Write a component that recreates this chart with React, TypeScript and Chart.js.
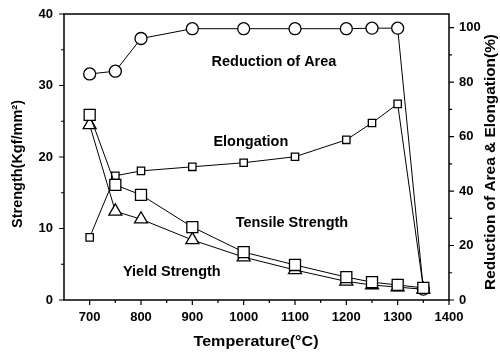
import React, { useEffect, useRef } from "react";
import { Chart, registerables } from "chart.js";

Chart.register(...registerables);

const temperatures = [700, 750, 800, 900, 1000, 1100, 1200, 1250, 1300, 1350];
const reductionOfArea = [83, 84, 96, 99.6, 99.6, 99.6, 99.6, 99.8, 99.8, 4];
const elongation = [23, 45.6, 47.4, 48.9, 50.4, 52.6, 58.8, 65, 72, 4.4];
const tensileStrength = [25.9, 16.1, 14.7, 10.2, 6.7, 4.9, 3.2, 2.5, 2.1, 1.7];
const yieldStrength = [24.5, 12.4, 11.3, 8.4, 6.0, 4.2, 2.6, 2.1, 1.8, 1.5];

const xTicks = [700, 800, 900, 1000, 1100, 1200, 1300, 1400];
const leftTicks = [0, 10, 20, 30, 40];
const rightTicks = [0, 20, 40, 60, 80, 100];

const annotations = [
  { text: "Reduction of Area", x: 1059, y: 33.3 },
  { text: "Elongation", x: 1014, y: 22.1 },
  { text: "Tensile Strength", x: 1094, y: 10.8 },
  { text: "Yield Strength", x: 860, y: 3.9 },
];

const FONT = "'Liberation Sans', Arial, sans-serif";

export default function App() {
  const ref = useRef<HTMLCanvasElement>(null);
  useEffect(() => {
    if (!ref.current) return;
    const toPts = (vals: number[]) => temperatures.map((t, i) => ({ x: t, y: vals[i] }));
    const base = {
      borderColor: "#000",
      backgroundColor: "#fff",
      pointBorderColor: "#000",
      pointBackgroundColor: "#fff",
      borderWidth: 1,
      pointBorderWidth: 1.3,
      tension: 0,
    };
    const drawText = (ctx: any, text: string, cx: number, cy: number, angle: number, size: number, target?: number) => {
      ctx.save();
      ctx.font = `bold ${size}px ${FONT}`;
      ctx.textAlign = "center";
      ctx.textBaseline = "middle";
      ctx.translate(cx, cy);
      ctx.rotate(angle);
      if (target) {
        const w = ctx.measureText(text).width;
        ctx.scale(target / w, 1);
      }
      ctx.fillText(text, 0, 0);
      ctx.restore();
    };
    const framePlugin = {
      id: "frame",
      afterDraw(chart: any) {
        const ctx = chart.ctx;
        const { left, right, top, bottom } = chart.chartArea;
        const xs = chart.scales.x;
        const yl = chart.scales.y;
        const yr = chart.scales.y2;
        ctx.save();
        ctx.strokeStyle = "#000";
        ctx.lineWidth = 1.5;
        ctx.strokeRect(left, top, right - left, bottom - top);
        ctx.lineWidth = 1.2;
        ctx.beginPath();
        for (let v = 700; v <= 1400; v += 50) {
          const p = xs.getPixelForValue(v);
          const len = v % 100 === 0 ? 5 : 3;
          ctx.moveTo(p, bottom);
          ctx.lineTo(p, bottom + len);
        }
        for (let v = 0; v <= 40; v += 5) {
          const p = yl.getPixelForValue(v);
          const len = v % 10 === 0 ? 5 : 3;
          ctx.moveTo(left, p);
          ctx.lineTo(left - len, p);
        }
        for (let v = 0; v <= 100; v += 10) {
          const p = yr.getPixelForValue(v);
          const len = v % 20 === 0 ? 5 : 3;
          ctx.moveTo(right, p);
          ctx.lineTo(right + len, p);
        }
        ctx.stroke();
        ctx.fillStyle = "#000";
        for (const a of annotations) {
          drawText(ctx, a.text, xs.getPixelForValue(a.x), yl.getPixelForValue(a.y), 0, 14.5);
        }
        drawText(ctx, "Temperature(°C)", 256, 342, 0, 14, 125);
        drawText(ctx, "Strength(Kgf/mm²)", 18, 164, -Math.PI / 2, 14, 128);
        drawText(ctx, "Reduction of Area & Elongation(%)", 491, 162, -Math.PI / 2, 14, 256);
        ctx.restore();
      },
    };
    const tickFont = { family: FONT, size: 13, weight: "bold" };
    const chart = new Chart(ref.current, {
      type: "line",
      data: {
        datasets: [
          { ...base, label: "Reduction of Area", data: toPts(reductionOfArea), yAxisID: "y2", pointStyle: "circle", pointRadius: 6, order: 4 },
          { ...base, label: "Elongation", data: toPts(elongation), yAxisID: "y2", pointStyle: "rect", pointRadius: 5.2, order: 3 },
          { ...base, label: "Yield Strength", data: toPts(yieldStrength), yAxisID: "y", pointStyle: "triangle", pointRadius: 7.5, order: 2 },
          { ...base, label: "Tensile Strength", data: toPts(tensileStrength), yAxisID: "y", pointStyle: "rect", pointRadius: 7.8, order: 1 },
        ],
      },
      options: {
        animation: false,
        responsive: false,
        maintainAspectRatio: false,
        layout: { padding: { top: 14, left: 0, right: 0, bottom: 0 } },
        plugins: { legend: { display: false }, tooltip: { enabled: false } },
        scales: {
          x: {
            type: "linear",
            min: 650,
            max: 1400,
            grid: { display: false },
            border: { display: false },
            afterBuildTicks: (s: any) => { s.ticks = xTicks.map((v) => ({ value: v })); },
            afterFit: (s: any) => { s.height = 54; },
            ticks: { color: "#000", font: tickFont, padding: 2, maxRotation: 0, callback: (v: any) => String(v) },
          },
          y: {
            type: "linear",
            position: "left",
            min: 0,
            max: 40,
            grid: { display: false },
            border: { display: false },
            afterBuildTicks: (s: any) => { s.ticks = leftTicks.map((v) => ({ value: v })); },
            afterFit: (s: any) => { s.width = 64; },
            ticks: { color: "#000", font: tickFont, padding: 3, callback: (v: any) => String(v) },
          },
          y2: {
            type: "linear",
            position: "right",
            min: 0,
            max: 105,
            grid: { display: false },
            border: { display: false },
            afterBuildTicks: (s: any) => { s.ticks = rightTicks.map((v) => ({ value: v })); },
            afterFit: (s: any) => { s.width = 51; },
            ticks: { color: "#000", font: tickFont, padding: 2, callback: (v: any) => String(v) },
          },
        },
      },
      plugins: [framePlugin],
    } as any);
    return () => chart.destroy();
  }, []);
  return (
    <div style={{ position: "absolute", left: 0, top: 0, width: 500, height: 354, background: "#fff" }}>
      <canvas ref={ref} width={500} height={354} style={{ display: "block" }} />
    </div>
  );
}
